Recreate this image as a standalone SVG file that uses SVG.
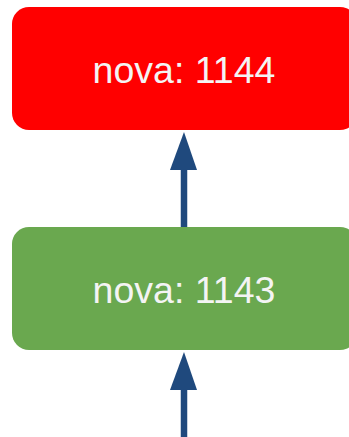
<svg xmlns="http://www.w3.org/2000/svg" width="349" height="437" viewBox="0 0 349 437">
<style>
.lbl{font-family:"Liberation Sans",Arial,sans-serif;font-size:37.5px;fill:#f4f4f4;text-anchor:middle}
.conn{stroke:#1f497d;stroke-width:6.5;fill:none}
.head{fill:#1f497d}
</style>
<rect width="349" height="437" fill="#ffffff"/>
<g id="connectors">
<line class="conn" x1="184" y1="227" x2="184" y2="168"/>
<polygon class="head" points="184,132 197,170 170,170"/>
<line class="conn" x1="184" y1="437" x2="184" y2="388"/>
<polygon class="head" points="184,352 197,390 170,390"/>
</g>
<g id="node1144">
<rect x="12" y="7" width="345" height="123" rx="17" fill="#ff0000"/>
<text class="lbl" x="184" y="83">nova: 1144</text>
</g>
<g id="node1143">
<rect x="12" y="227" width="345" height="123" rx="17" fill="#6aa84f"/>
<text class="lbl" x="184" y="303">nova: 1143</text>
</g>
</svg>
